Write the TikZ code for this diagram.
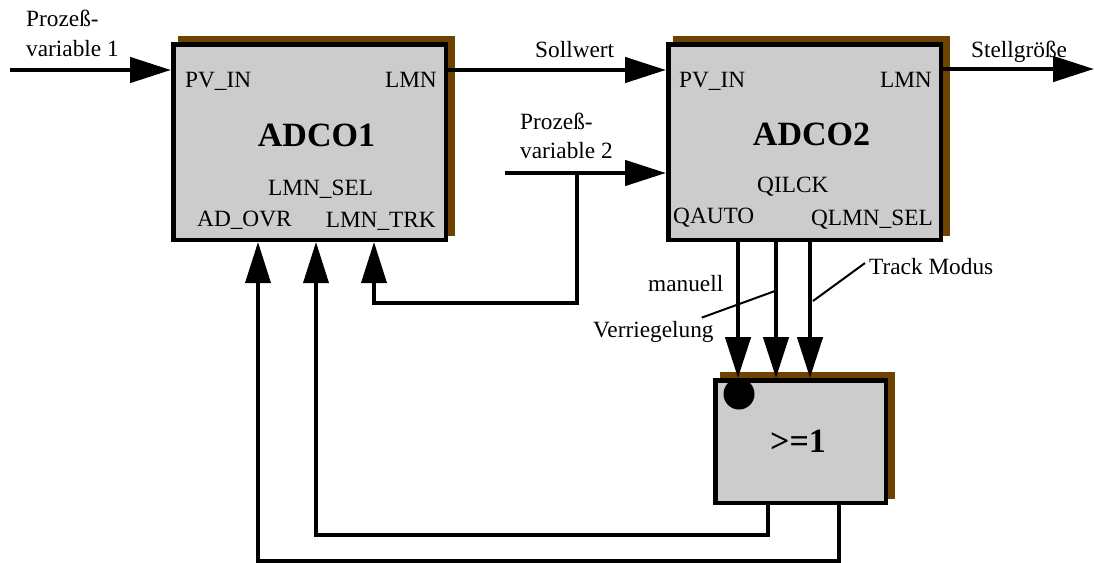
\documentclass[tikz,border=0pt]{standalone}
\usepackage{fontspec}
\setmainfont{Liberation Serif}
\usetikzlibrary{arrows.meta,shadows}
\definecolor{blockgray}{RGB}{204,204,204}
\definecolor{shadowbrown}{RGB}{110,66,0}
\tikzset{
  fblock/.style={draw, fill=blockgray, line width=4.5pt, inner sep=0pt,
    drop shadow={shadow xshift=7pt, shadow yshift=6pt, fill=shadowbrown,
      draw=shadowbrown, line width=4.5pt, opacity=1}},
  pin/.style={inner sep=0pt, font=\fontsize{23.3}{29}\selectfont},
  title/.style={inner sep=0pt, font=\fontsize{34}{40}\selectfont\bfseries},
  sig/.style={line width=4.5pt, -{Triangle[length=41pt,width=25pt]}},
  fb/.style={line width=3.5pt, -{Triangle[length=41pt,width=25pt]}},
  leader/.style={line width=2pt},
}
\begin{document}
\begin{tikzpicture}[x=1pt,y=-1pt]
    \useasboundingbox (0,0) rectangle (1094,562);

    % Function blocks
    \node[fblock, minimum width=272.5pt, minimum height=195.5pt] (adco1) at (309.5,142) {};
    \node[fblock, minimum width=272.5pt, minimum height=195.5pt] (adco2) at (804.5,142) {};
    \node[fblock, minimum width=170.5pt, minimum height=122.5pt] (gate) at (800.5,441.5) {};

    % Block titles
    \node[title, anchor=base] (t1) at (316.5,146) {ADCO1};
    \node[title, anchor=base] (t2) at (811.5,145) {ADCO2};
    \node[title, anchor=base] (t3) at (798,452) {>=1};

    % Pins of ADCO1
    \node[pin, anchor=base west] (a1pv) at (185,87) {PV\_IN};
    \node[pin, anchor=base east] (a1lmn) at (437,87) {LMN};
    \node[pin, anchor=base west] (a1sel) at (268,195) {LMN\_SEL};
    \node[pin, anchor=base west] (a1ovr) at (197,226) {AD\_OVR};
    \node[pin, anchor=base east] (a1trk) at (436,227) {LMN\_TRK};

    % Pins of ADCO2
    \node[pin, anchor=base west] (a2pv) at (679,87) {PV\_IN};
    \node[pin, anchor=base east] (a2lmn) at (932,87) {LMN};
    \node[pin, anchor=base west] (a2ilck) at (757,192) {QILCK};
    \node[pin, anchor=base west] (a2auto) at (673,223) {QAUTO};
    \node[pin, anchor=base east] (a2sel) at (933,225) {QLMN\_SEL};

    % Signal names (base = last line)
    \node[pin, anchor=base west, align=left] (lpv1) at (26,56) {Prozeß-\\variable 1};
    \node[pin, anchor=base west] (lsoll) at (535,57) {Sollwert};
    \node[pin, anchor=base west, align=left] (lpv2) at (520,158) {Prozeß-\\variable 2};
    \node[pin, anchor=base west] (lstell) at (971,57) {Stellgröße};
    \node[pin, anchor=base west] (lman) at (648,291) {manuell};
    \node[pin, anchor=base west] (verr) at (593,337) {Verriegelung};
    \node[pin, anchor=base west] (trkmod) at (869,274) {Track Modus};

    % Signal lines
    \coordinate (pv1) at (10,70);
    \coordinate (pv2) at (505,173);
    \coordinate (j2) at (577,173);
    \coordinate (out) at (1094,69);
    \draw[sig] (pv1) -- (pv1 -| adco1.west);
    \draw[sig] (adco1.east |- pv1) -- (adco2.west |- pv1);
    \draw[sig] (adco2.east |- out) -- (out);
    \draw[sig] (pv2) -- (pv2 -| adco2.west);

    % Feedback to ADCO1
    \coordinate (ovr) at (258,561);
    \coordinate (sel) at (316,535);
    \coordinate (trk) at (374,303);
    \draw[fb] (j2) |- (trk) -- (trk |- adco1.south);
    \draw[fb] (gate.south -| 768,0) |- (sel) -- (sel |- adco1.south);
    \draw[fb] (gate.south -| 839,0) |- (ovr) -- (ovr |- adco1.south);

    % Inputs of the OR gate
    \foreach \px in {738,776,810} {
        \draw[sig] (adco2.south -| \px,0) -- (gate.north -| \px,0);
      }
    \node[circle, fill, inner sep=0pt, minimum size=31pt] (neg) at (739,394) {};

    % Leader lines
    \coordinate (ilck) at (775,291);
    \coordinate (mode) at (813,301);
    \draw[leader] ([xshift=-12pt,yshift=3pt]verr.north east) -- (ilck);
    \draw[leader] (mode) -- ([xshift=-4pt,yshift=3pt]trkmod.west);
  \end{tikzpicture}
\end{document}
